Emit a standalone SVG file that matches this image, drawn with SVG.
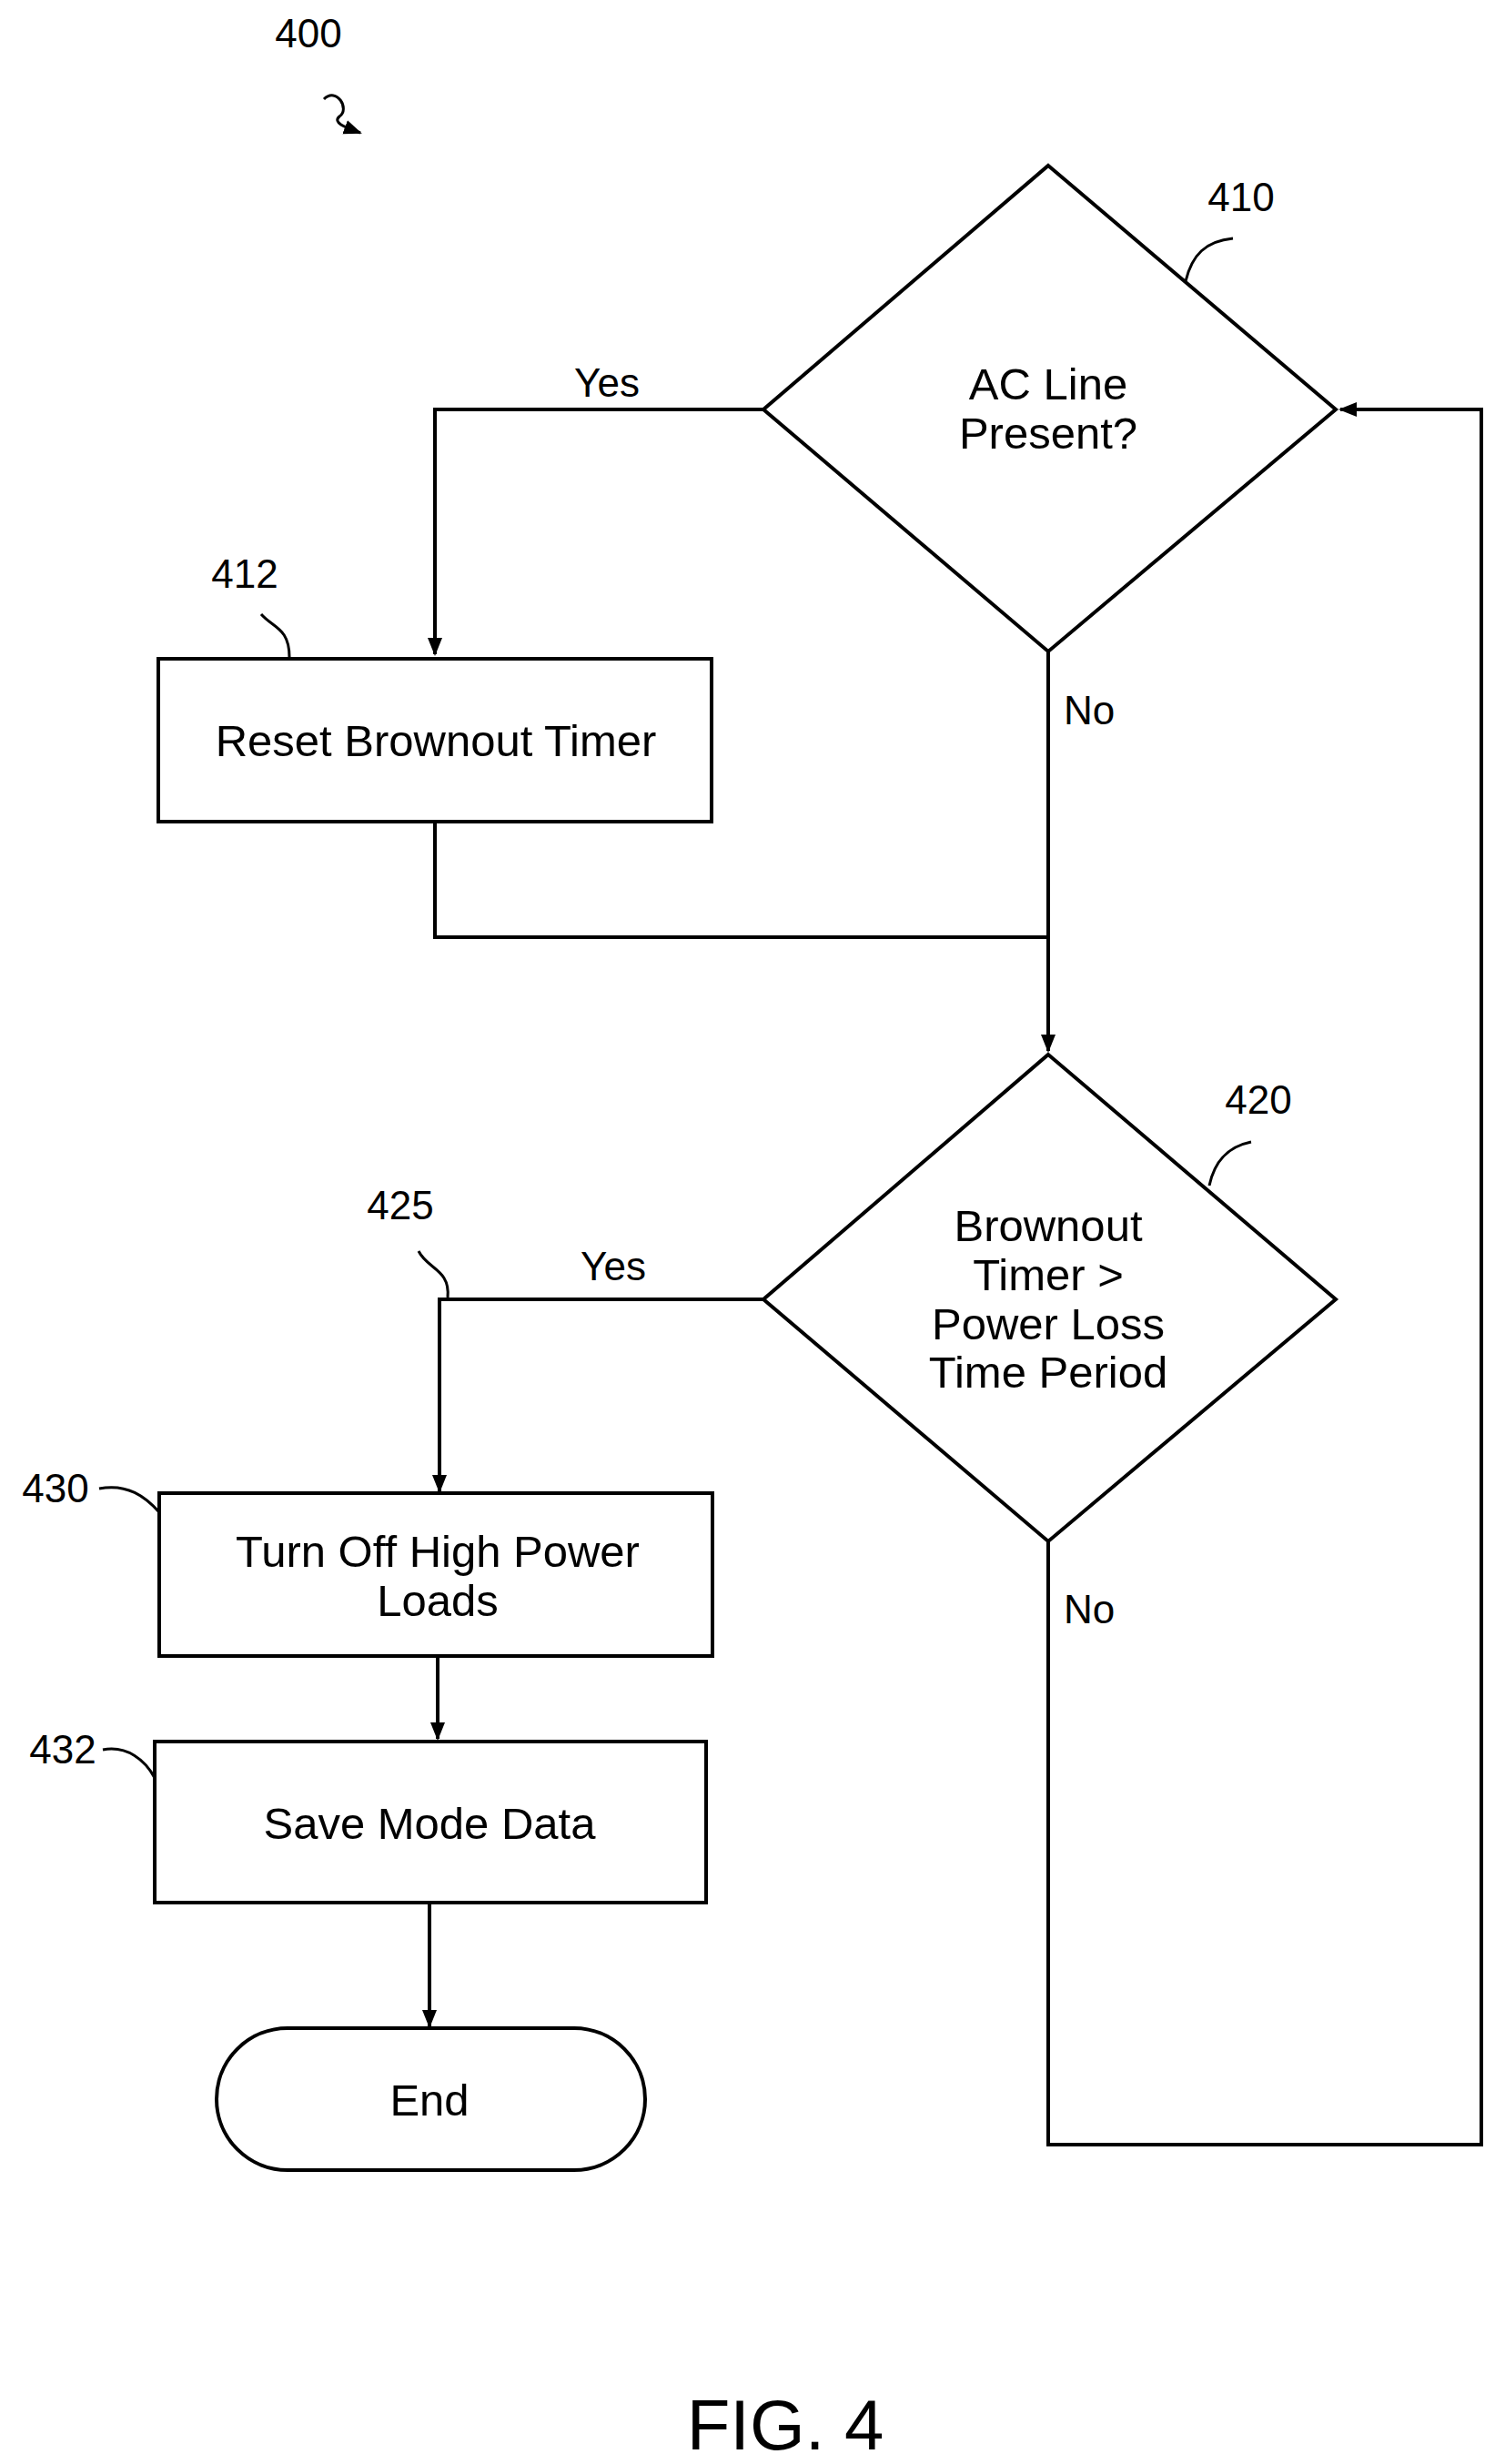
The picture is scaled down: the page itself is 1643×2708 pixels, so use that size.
<svg xmlns="http://www.w3.org/2000/svg" width="1643" height="2708" viewBox="0 0 1643 2708">
<style>
.s{fill:none;stroke:#000;stroke-width:4}
.n{fill:#fff;stroke:#000;stroke-width:4}
.t{font-family:"Liberation Sans",Arial,sans-serif;font-size:49px;text-anchor:middle;fill:#000}
.l{font-family:"Liberation Sans",Arial,sans-serif;font-size:44px;text-anchor:middle;fill:#000}
</style>
<defs>
<marker id="b" markerWidth="20" markerHeight="20" refX="18" refY="10" orient="auto" markerUnits="userSpaceOnUse" viewBox="0 0 20 20"><path d="M0,2L20,10L0,18z"/></marker></defs>
<rect width="1643" height="2708" fill="#fff"/>
<g id="connectors">
<path class="s" d="M839,450H478V719" marker-end="url(#b)"/>
<path class="s" d="M1152,716V1155" marker-end="url(#b)"/>
<path class="s" d="M478,903V1030H1152"/>
<path class="s" d="M839,1428H483V1639" marker-end="url(#b)"/>
<path class="s" d="M481,1820V1911" marker-end="url(#b)"/>
<path class="s" d="M472,2091V2227" marker-end="url(#b)"/>
<path class="s" d="M1152,1694V2357H1628V450H1473" marker-end="url(#b)"/>
<text class="l" x="667" y="436">Yes</text>
<text class="l" x="1197" y="796">No</text>
<text class="l" x="674" y="1407">Yes</text>
<text class="l" x="1197" y="1784">No</text>
</g>
<g id="n400"><text class="l" x="339" y="52">400</text><path class="s" d="M356,109C370,95 385,120 373,128C365,135 380,140 396,146" marker-end="url(#b)" style="stroke-width:3"/></g>
<g id="n410"><polygon class="n" points="1152,182 1468,450 1152,716 839,450"/><text class="t" x="1152" y="439">AC Line</text><text class="t" x="1152" y="493">Present?</text><text class="l" x="1364" y="232">410</text><path class="s" style="stroke-width:3" d="M1303,309C1310,280 1325,265 1355,262"/></g>
<g id="n412"><rect class="n" x="174" y="724" width="608" height="179"/><text class="t" x="479" y="831">Reset Brownout Timer</text><text class="l" x="269" y="646">412</text><path class="s" style="stroke-width:3" d="M318,722C318,690 300,690 287,675"/></g>
<g id="n420"><polygon class="n" points="1152,1159 1468,1428 1152,1694 839,1428"/><text class="t" x="1152" y="1364">Brownout</text><text class="t" x="1152" y="1418">Timer &gt;</text><text class="t" x="1152" y="1472">Power Loss</text><text class="t" x="1152" y="1525">Time Period</text><text class="l" x="1383" y="1224">420</text><path class="s" style="stroke-width:3" d="M1329,1303C1335,1275 1350,1260 1375,1255"/></g>
<g id="n425"><text class="l" x="440" y="1340">425</text><path class="s" style="stroke-width:3" d="M492,1426C495,1395 470,1395 460,1375"/></g>
<g id="n430"><rect class="n" x="175" y="1641" width="608" height="179"/><text class="t" x="481" y="1722">Turn Off High Power</text><text class="t" x="481" y="1776">Loads</text><text class="l" x="61" y="1651">430</text><path class="s" style="stroke-width:3" d="M109,1636C140,1630 160,1645 175,1662"/></g>
<g id="n432"><rect class="n" x="170" y="1914" width="606" height="177"/><text class="t" x="472" y="2021">Save Mode Data</text><text class="l" x="69" y="1938">432</text><path class="s" style="stroke-width:3" d="M113,1923C140,1918 160,1935 170,1954"/></g>
<g id="end"><rect class="n" x="238" y="2229" width="471" height="156" rx="78"/><text class="t" x="472" y="2325">End</text></g>
<text class="t" x="863" y="2692" style="font-size:78px">FIG. 4</text>
</svg>
